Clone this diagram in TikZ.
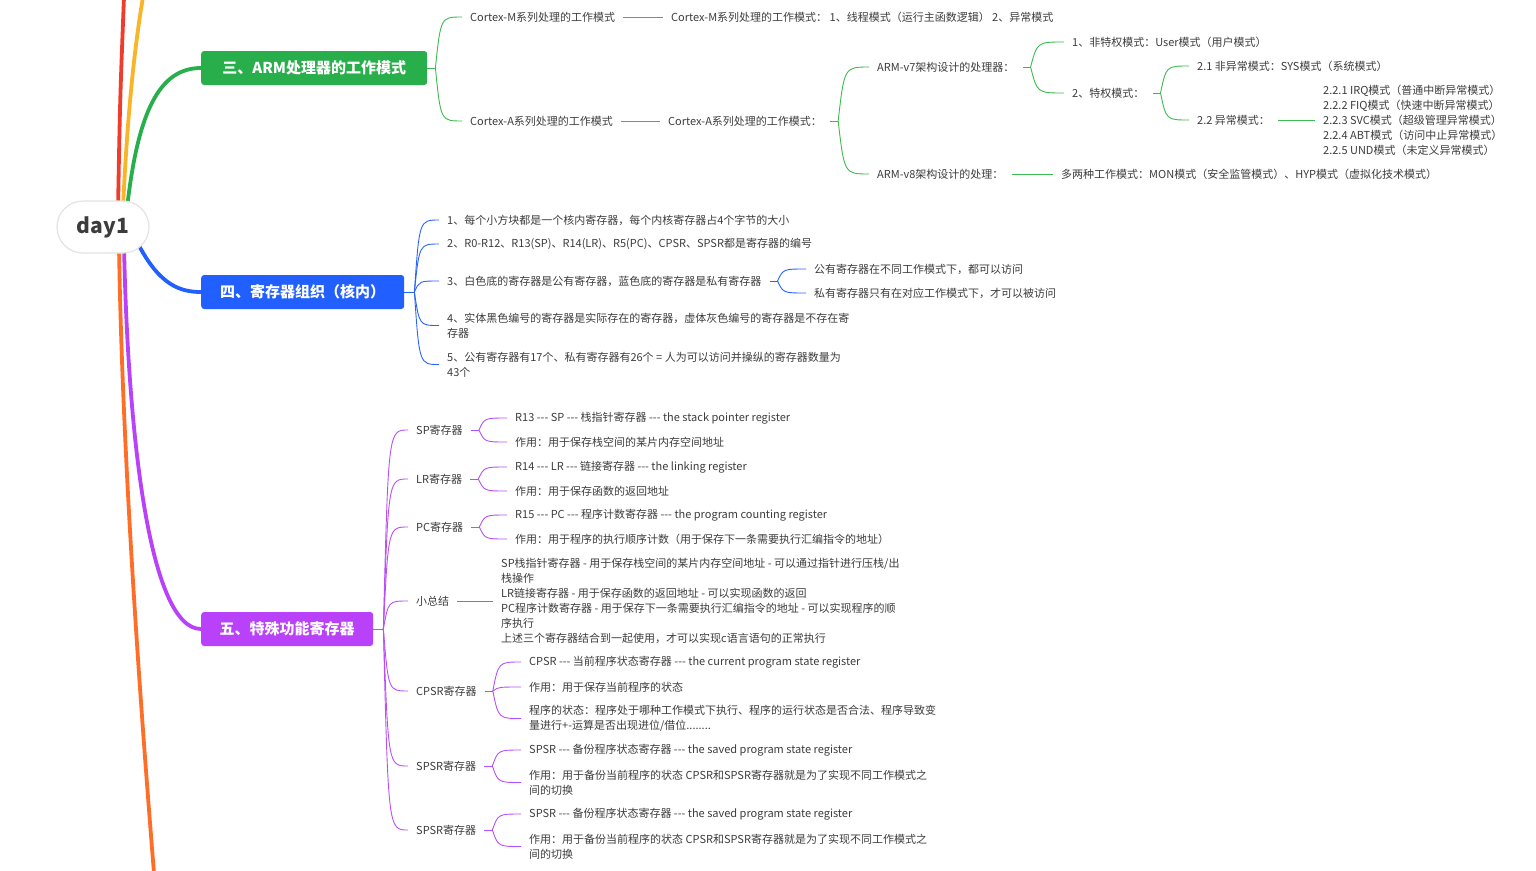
\documentclass[tikz,border=0pt]{standalone}
\usepackage{fontspec}
\setmainfont{Noto Sans CJK SC}[Ligatures=TeXOff]
\usetikzlibrary{calc,backgrounds}
\definecolor{tc}{RGB}{60,60,60}
\definecolor{cgreen}{RGB}{40,175,75}
\definecolor{cblue}{RGB}{33,96,255}
\definecolor{cpurp}{RGB}{185,65,250}
\definecolor{cred}{RGB}{240,60,45}
\definecolor{cyel}{RGB}{250,180,40}
\definecolor{corange}{RGB}{255,110,40}
\definecolor{lgreen}{RGB}{60,185,80}
\definecolor{lblue}{RGB}{40,100,250}
\definecolor{lpurp}{RGB}{185,80,245}
\newcommand\fan[3]{\draw[#1] let \p1=(#2), \p2=(#3.west) in (\p1) .. controls ({\x1+0.2*\x2-0.2*\x1},\y2) .. (\p2);}
\begin{document}
\begin{tikzpicture}[x=1pt,y=-1pt,
  txt/.style={anchor=west, inner xsep=8pt, inner ysep=1pt, text=tc, font=\fontsize{11}{15}\selectfont, align=left},
  box/.style={anchor=west, inner xsep=10pt, minimum height=34pt, rounded corners=3pt, text=white, font=\fontsize{15}{18}\selectfont\bfseries},
  mainline/.style={line width=3.8pt, line cap=round},
  gl/.style={lgreen, line width=0.9pt},
  bl/.style={lblue, line width=0.9pt},
  pl/.style={lpurp, line width=0.9pt}]
\useasboundingbox (0,0) rectangle (1536,870);

% root
\node[draw=gray!22, line width=1.2pt, fill=white, rounded corners=26pt, minimum width=92pt, minimum height=52pt, text=tc, font=\fontsize{21}{24}\selectfont\bfseries] (root) at (103,227) {day1};

% main boxes
\node[box, fill=cgreen, minimum width=226pt] (s3) at (201,68) {三、ARM处理器的工作模式};
\node[box, fill=cblue, minimum width=203pt] (s4) at (201,292) {四、寄存器组织（核内）};
\node[box, fill=cpurp, minimum width=172pt] (s5) at (201,629) {五、特殊功能寄存器};

\coordinate (topR) at (124,-3);
\coordinate (topY) at (143,-3);
\coordinate (botO) at (154,873);

\begin{scope}[on background layer]
\draw[mainline, cred] ($(root.north)+(15,10)$) .. controls (120,100) .. (topR);
\draw[mainline, cyel] ($(root.north)+(20,8)$) .. controls (127,120) and (134,50) .. (topY);
\draw[mainline, cgreen] ($(root.north)+(24,8)$) .. controls (138,110) and (160,68) .. (s3.west);
\draw[mainline, cblue] ($(root.south)+(36,-8)$) .. controls (160,285) and (180,292) .. (s4.west);
\draw[mainline, cpurp] ($(root.south)+(21,-8)$) .. controls (128,440) and (150,629) .. (s5.west);
\draw[mainline, corange] ($(root.south)+(16,-8)$) .. controls (122,450) and (140,700) .. (botO);
\end{scope}

% ---------- green subtree ----------
\node[txt] (cm1) at (462,17) {Cortex-M系列处理的工作模式};
\node[txt] (cm2) at (663,17) {Cortex-M系列处理的工作模式：  1、线程模式（运行主函数逻辑） 2、异常模式};
\node[txt] (ca1) at (462,121) {Cortex-A系列处理的工作模式};
\node[txt] (ca2) at (660,121) {Cortex-A系列处理的工作模式：};
\node[txt] (v7) at (869,67) {ARM-v7架构设计的处理器：};
\node[txt] (v8) at (869,174) {ARM-v8架构设计的处理：};
\node[txt] (np) at (1064,42) {1、非特权模式：User模式（用户模式）};
\node[txt] (pm) at (1064,93) {2、特权模式：};
\node[txt] (sys) at (1189,66) {2.1 非异常模式：SYS模式（系统模式）};
\node[txt] (exc) at (1189,120) {2.2 异常模式：};
\node[txt] (excl) at (1315,120) {2.2.1 IRQ模式（普通中断异常模式）\\2.2.2 FIQ模式（快速中断异常模式）\\2.2.3 SVC模式（超级管理异常模式）\\2.2.4 ABT模式（访问中止异常模式）\\2.2.5 UND模式（未定义异常模式）};
\node[txt] (v8d) at (1053,174) {多两种工作模式：MON模式（安全监管模式）、HYP模式（虚拟化技术模式）};

\coordinate (g0) at ($(s3.east)+(8,0)$);
\draw[gl] (s3.east) -- (g0);
\fan{gl}{g0}{cm1}\fan{gl}{g0}{ca1}
\draw[gl] (cm1.east) -- (cm2.west);
\draw[gl] (ca1.east) -- (ca2.west);
\coordinate (g1) at ($(ca2.east)+(8,0)$);
\draw[gl] (ca2.east) -- (g1);
\fan{gl}{g1}{v7}\fan{gl}{g1}{v8}
\coordinate (g2) at ($(v7.east)+(8,0)$);
\draw[gl] (v7.east) -- (g2);
\fan{gl}{g2}{np}\fan{gl}{g2}{pm}
\coordinate (g3) at ($(pm.east)+(8,0)$);
\draw[gl] (pm.east) -- (g3);
\fan{gl}{g3}{sys}\fan{gl}{g3}{exc}
\draw[gl] (exc.east) -- (excl.west);
\draw[gl] (v8.east) -- (v8d.west);

% ---------- blue subtree ----------
\node[txt] (b1) at (439,220) {1、每个小方块都是一个核内寄存器，每个内核寄存器占4个字节的大小};
\node[txt] (b2) at (439,244) {2、R0-R12、R13(SP)、R14(LR)、R5(PC)、CPSR、SPSR都是寄存器的编号};
\node[txt] (b3) at (439,281) {3、白色底的寄存器是公有寄存器，蓝色底的寄存器是私有寄存器};
\node[txt] (b4) at (439,325.5) {4、实体黑色编号的寄存器是实际存在的寄存器，虚体灰色编号的寄存器是不存在寄\\存器};
\node[txt] (b5) at (439,364.5) {5、公有寄存器有17个、私有寄存器有26个 = 人为可以访问并操纵的寄存器数量为\\43个};
\node[txt] (b31) at (806,269) {公有寄存器在不同工作模式下，都可以访问};
\node[txt] (b32) at (806,293) {私有寄存器只有在对应工作模式下，才可以被访问};

\coordinate (q0) at ($(s4.east)+(10,0)$);
\draw[bl] (s4.east) -- (q0);
\fan{bl}{q0}{b1}\fan{bl}{q0}{b2}\fan{bl}{q0}{b3}\fan{bl}{q0}{b4}\fan{bl}{q0}{b5}
\coordinate (q1) at ($(b3.east)+(8,0)$);
\draw[bl] (b3.east) -- (q1);
\fan{bl}{q1}{b31}\fan{bl}{q1}{b32}

% ---------- purple subtree ----------
\node[txt] (sp) at (408,430) {SP寄存器};
\node[txt] (lr) at (408,479) {LR寄存器};
\node[txt] (pc) at (408,527) {PC寄存器};
\node[txt] (sum) at (408,601) {小总结};
\node[txt] (cpsr) at (408,691) {CPSR寄存器};
\node[txt] (spsr) at (408,766) {SPSR寄存器};
\node[txt] (spsrb) at (408,830) {SPSR寄存器};

\node[txt] (sp1) at (507,418) {R13 --- SP --- 栈指针寄存器 --- the stack pointer register};
\node[txt] (sp2) at (507,442) {作用：用于保存栈空间的某片内存空间地址};
\node[txt] (lr1) at (507,467) {R14 --- LR --- 链接寄存器 --- the linking register};
\node[txt] (lr2) at (507,491) {作用：用于保存函数的返回地址};
\node[txt] (pc1) at (507,515) {R15 --- PC --- 程序计数寄存器 --- the program counting register};
\node[txt] (pc2) at (507,539) {作用：用于程序的执行顺序计数（用于保存下一条需要执行汇编指令的地址）};
\node[txt] (sumt) at (493,601) {SP栈指针寄存器 - 用于保存栈空间的某片内存空间地址 - 可以通过指针进行压栈/出\\栈操作\\LR链接寄存器 - 用于保存函数的返回地址 - 可以实现函数的返回\\PC程序计数寄存器 - 用于保存下一条需要执行汇编指令的地址 - 可以实现程序的顺\\序执行\\上述三个寄存器结合到一起使用，才可以实现c语言语句的正常执行};
\node[txt] (cpsr1) at (521,662) {CPSR --- 当前程序状态寄存器 --- the current program state register};
\node[txt] (cpsr2) at (521,687) {作用：用于保存当前程序的状态};
\node[txt] (cpsr3) at (521,718.5) {程序的状态：程序处于哪种工作模式下执行、程序的运行状态是否合法、程序导致变\\量进行+-运算是否出现进位/借位........};
\node[txt] (spsr1) at (521,750) {SPSR --- 备份程序状态寄存器 --- the saved program state register};
\node[txt] (spsr2) at (521,782.5) {作用：用于备份当前程序的状态 CPSR和SPSR寄存器就是为了实现不同工作模式之\\间的切换};
\node[txt] (spsrb1) at (521,814) {SPSR --- 备份程序状态寄存器 --- the saved program state register};
\node[txt] (spsrb2) at (521,846.5) {作用：用于备份当前程序的状态 CPSR和SPSR寄存器就是为了实现不同工作模式之\\间的切换};

\coordinate (p0) at ($(s5.east)+(10,0)$);
\draw[pl] (s5.east) -- (p0);
\foreach \c in {sp,lr,pc,sum,cpsr,spsr,spsrb} {\fan{pl}{p0}{\c}}
\foreach \a/\b in {sp/sp1,sp/sp2,lr/lr1,lr/lr2,pc/pc1,pc/pc2,cpsr/cpsr1,cpsr/cpsr2,cpsr/cpsr3,spsr/spsr1,spsr/spsr2,spsrb/spsrb1,spsrb/spsrb2}{
  \coordinate (t) at ($(\a.east)+(8,0)$);
  \draw[pl] (\a.east) -- (t);
  \fan{pl}{t}{\b}
}
\draw[pl] (sum.east) -- (sumt.west);
\end{tikzpicture}
\end{document}
